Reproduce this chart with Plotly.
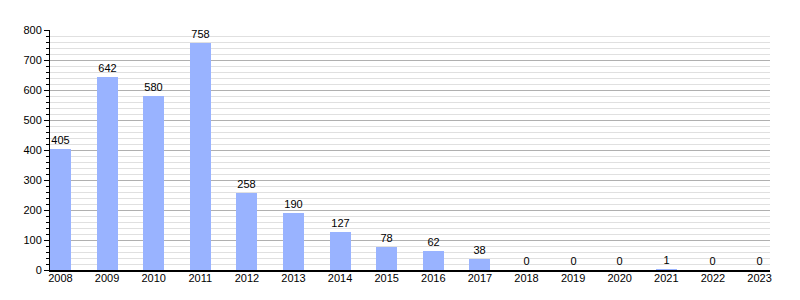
import plotly.graph_objects as go

years = ["2008", "2009", "2010", "2011", "2012", "2013", "2014", "2015",
         "2016", "2017", "2018", "2019", "2020", "2021", "2022", "2023"]
values = [405, 642, 580, 758, 258, 190, 127, 78, 62, 38, 0, 0, 0, 1, 0, 0]

fig = go.Figure(go.Bar(
    x=years, y=values, width=0.45,
    marker=dict(color="#99B3FF", line=dict(width=0)),
    text=[str(v) for v in values], textposition="outside",
    textfont=dict(color="black", size=11, family="Liberation Sans, Arial"),
    cliponaxis=False,
))

fig.update_layout(
    width=800, height=300,
    margin=dict(l=50, r=30, t=30, b=30),
    paper_bgcolor="white", plot_bgcolor="white",
    font=dict(family="Liberation Sans, Arial", size=11, color="black"),
    showlegend=False,
    bargap=0,
)
fig.update_xaxes(
    type="category", range=[-0.225, 15.225],
    showline=True, linecolor="black", linewidth=2,
    showgrid=False, ticks="", tickfont=dict(size=11),
    ticklabelstandoff=-3,
)
fig.update_yaxes(
    range=[0, 800], dtick=100, tick0=0,
    showline=True, linecolor="black", linewidth=1,
    showgrid=True, gridcolor="#B0B0B0", gridwidth=1,
    ticks="outside", ticklen=5, tickcolor="black",
    zeroline=False, tickfont=dict(size=11),
    minor=dict(dtick=20, showgrid=True, gridcolor="#E0E0E0", gridwidth=1,
               ticks="outside", ticklen=3, tickcolor="black"),
)

fig.write_html("out.html")
